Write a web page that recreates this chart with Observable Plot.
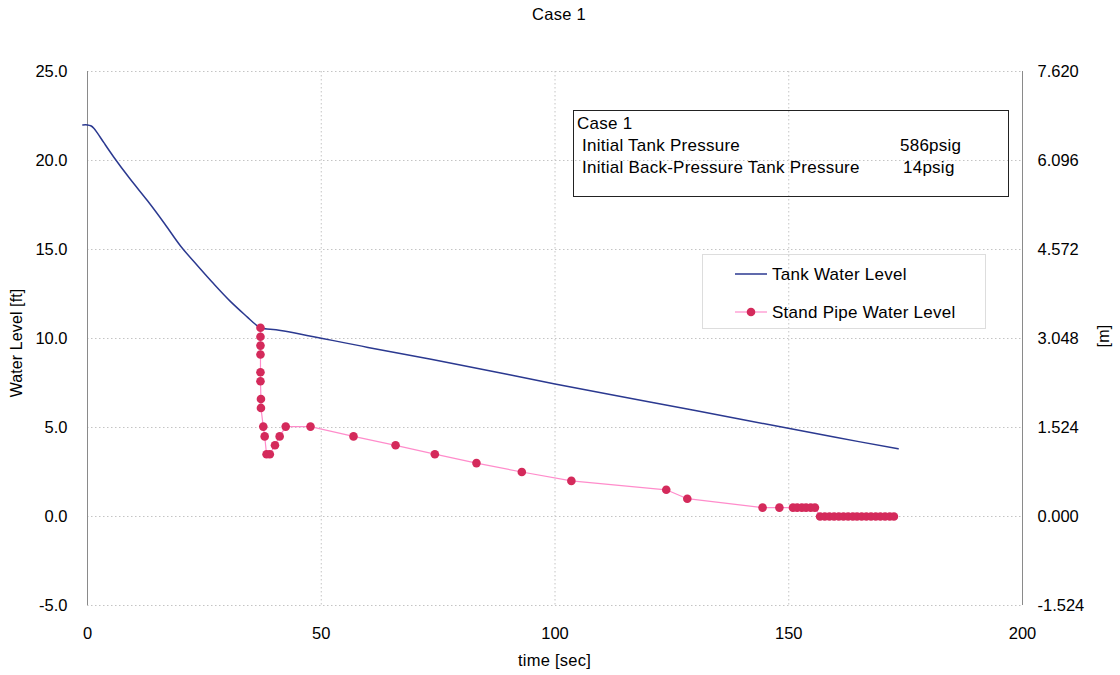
<!DOCTYPE html>
<html><head><meta charset="utf-8">
<script src="https://cdn.jsdelivr.net/npm/d3@7"></script>
<script src="https://cdn.jsdelivr.net/npm/@observablehq/plot@0.6"></script>
<style>
body{margin:0;background:#fff;font-family:"Liberation Sans",Arial,Helvetica,sans-serif;color:#000;}
#wrap{position:relative;width:1120px;height:675px;overflow:hidden;}
#chart{position:absolute;left:0;top:0;}
.ov{position:absolute;white-space:nowrap;font-size:17px;letter-spacing:0.25px;line-height:1;}
#title{left:0;width:1118px;top:6px;text-align:center;font-size:16.5px;}
#xlabel{left:0;width:1109px;top:652px;text-align:center;font-size:16.5px;}
#ylabel{left:17px;top:343px;transform:translate(-50%,-50%) rotate(-90deg);font-size:16px;letter-spacing:0.1px;}
#y2label{left:1104px;top:336px;transform:translate(-50%,-50%) rotate(-90deg);font-size:16px;}
#info{position:absolute;left:573px;top:110px;width:436px;height:87px;border:1px solid #222;box-sizing:border-box;}
#legend{position:absolute;left:702px;top:254px;width:284px;height:75px;border:1px solid #ddd;box-sizing:border-box;}
</style></head>
<body>
<div id="wrap">
  <div id="chart"></div>
  <div class="ov" id="title">Case 1</div>
  <div class="ov" id="xlabel">time [sec]</div>
  <div class="ov" id="ylabel">Water Level [ft]</div>
  <div class="ov" id="y2label">[m]</div>
  <div id="info">
    <div class="ov" style="left:3px;top:4px;">Case 1</div>
    <div class="ov" style="left:8px;top:26px;">Initial Tank Pressure</div>
    <div class="ov" style="left:326px;top:26px;">586psig</div>
    <div class="ov" style="left:8px;top:48px;">Initial Back-Pressure Tank Pressure</div>
    <div class="ov" style="left:329px;top:48px;">14psig</div>
  </div>
  <div id="legend">
    <svg width="284" height="75" style="position:absolute;left:0;top:0">
      <line x1="32" x2="64" y1="19" y2="19" stroke="#2b3990" stroke-width="1.5"/>
      <line x1="32" x2="64" y1="57" y2="57" stroke="#ff8ccb" stroke-width="1.2"/>
      <circle cx="48" cy="57" r="4.3" fill="#d42a5b"/>
    </svg>
    <div class="ov" style="left:69px;top:11px;">Tank Water Level</div>
    <div class="ov" style="left:69px;top:49px;">Stand Pipe Water Level</div>
  </div>
</div>
<script>
// Tank water level (ft) vs time (sec)
const tankTime  = [-1, 0, 0.7, 1.4, 2.1, 3.5, 5.6, 9.0, 12.8, 16.5, 19.9, 23.5, 27.0, 30.5, 34.2, 35.9, 37.0, 41.3, 60, 80, 100, 120, 140, 160, 173.4];
const tankLevel = [22.0, 22.0, 21.95, 21.8, 21.55, 21.0, 20.2, 19.0, 17.75, 16.45, 15.2, 14.1, 13.07, 12.1, 11.2, 10.8, 10.6, 10.45, 9.5, 8.5, 7.45, 6.45, 5.45, 4.45, 3.8];

// Stand pipe water level (ft) vs time (sec)
const pipeTime  = [37.0, 37.0, 37.0, 37.0, 37.0, 37.0, 37.1, 37.1, 37.6, 37.9, 38.3, 39.0, 40.1, 41.1, 42.4, 47.7, 56.9, 65.9, 74.3, 83.2, 92.9, 103.5, 123.8, 128.3,
                   144.4, 148.0, 150.9, 151.8, 152.8, 153.7, 154.7, 155.6,
                   156.7, 157.7, 158.7, 159.7, 160.7, 161.7, 162.7, 163.7, 164.6, 165.6, 166.6, 167.6, 168.6, 169.6, 170.6, 171.6, 172.5];
const pipeLevel = [10.6, 10.1, 9.6, 9.1, 8.1, 7.6, 6.6, 6.1, 5.05, 4.5, 3.5, 3.5, 4.0, 4.5, 5.05, 5.05, 4.5, 4.0, 3.5, 3.0, 2.5, 2.0, 1.5, 1.0,
                   0.5, 0.5, 0.5, 0.5, 0.5, 0.5, 0.5, 0.5,
                   0, 0, 0, 0, 0, 0, 0, 0, 0, 0, 0, 0, 0, 0, 0, 0, 0];

const xTicks = [0, 50, 100, 150, 200];
const yTicks = [-5, 0, 5, 10, 15, 20, 25];
const ftToM = 0.3048;

const tank = tankTime.map((t, i) => ({t, v: tankLevel[i]}));
const pipe = pipeTime.map((t, i) => ({t, v: pipeLevel[i]}));

const gridStyle = {stroke: "#c4c4c4", strokeDasharray: "1.5,2.5", strokeWidth: 1};

const chart = Plot.plot({
  width: 1120,
  height: 675,
  marginTop: 71,
  marginBottom: 70,
  marginLeft: 87,
  marginRight: 98,
  style: {fontFamily: "'Liberation Sans', Arial, sans-serif", fontSize: "16.5px", background: "white", color: "#000"},
  x: {domain: [0, 200]},
  y: {domain: [-5, 25]},
  marks: [
    Plot.ruleY(yTicks, gridStyle),
    Plot.ruleX(xTicks.filter(d => d > 0 && d < 200), gridStyle),
    Plot.ruleX([xTicks[0], xTicks[xTicks.length - 1]], {stroke: "#8a8a8a", strokeWidth: 1}),
    Plot.axisY(yTicks, {anchor: "left", tickSize: 0, tickPadding: 20, tickFormat: d => d.toFixed(1), label: null, fontSize: 16.5}),
    Plot.axisY(yTicks, {anchor: "right", tickSize: 0, tickPadding: 15, tickFormat: d => (d * ftToM).toFixed(3), label: null, fontSize: 16.5}),
    Plot.axisX(xTicks, {anchor: "bottom", tickSize: 0, tickPadding: 22, tickFormat: d => String(d), label: null, fontSize: 16.5}),
    Plot.line(tank, {x: "t", y: "v", stroke: "#2b3990", strokeWidth: 1.5, curve: "catmull-rom"}),
    Plot.line(pipe, {x: "t", y: "v", stroke: "#ff8ccb", strokeWidth: 1.2}),
    Plot.dot(pipe, {x: "t", y: "v", r: 4.3, fill: "#d42a5b", stroke: "none"})
  ]
});
document.getElementById("chart").appendChild(chart);
</script>
</body></html>
